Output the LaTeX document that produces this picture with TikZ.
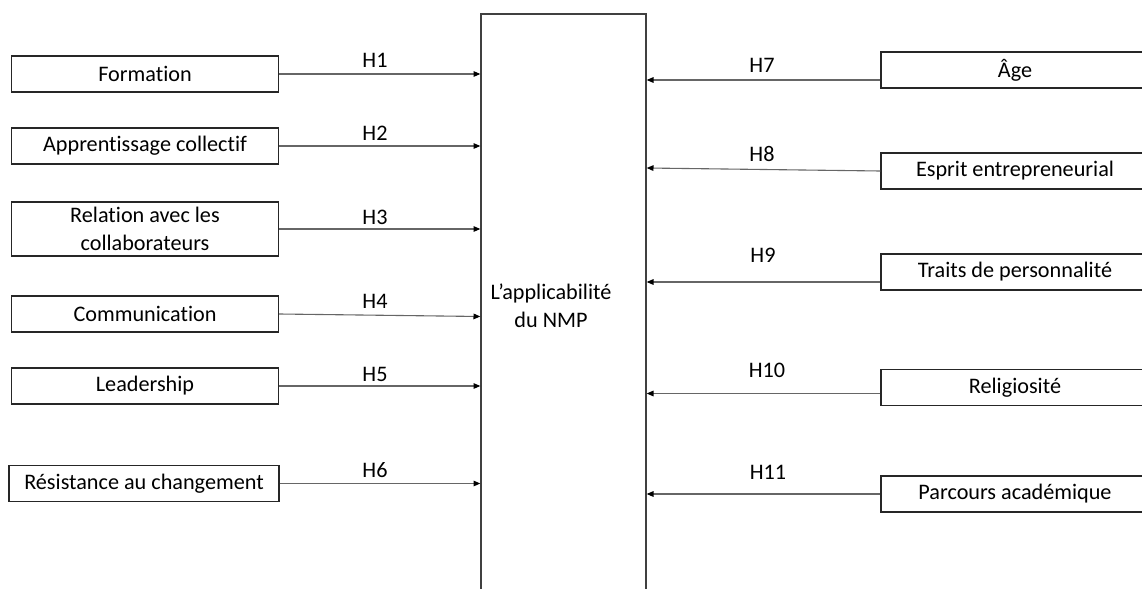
\documentclass[tikz,border=0pt]{standalone}
\usepackage{fontspec}
\setmainfont{Carlito}[Ligatures={NoCommon,NoContextual}]
\usetikzlibrary{arrows.meta,calc}
\begin{document}
\begin{tikzpicture}[x=0.5pt,y=-0.5pt,
  txt/.style={font=\fontsize{11.1}{14}\selectfont},
  box/.style={txt,draw=black!85,line width=0.7pt,minimum height=18pt,inner sep=0pt,align=center},
  lbox/.style={box,minimum width=133.5pt},
  rbox/.style={box,minimum width=134pt},
  hyp/.style={txt,inner sep=0pt},
  conn/.style={draw=black!60,line width=0.55pt,-{Triangle[length=3.4pt,width=2.8pt,color=black,fill=black]}}]
\useasboundingbox (0,0) rectangle (1142,589);
% central box
\node[draw=black!75,line width=0.7pt,minimum width=82.5pt,minimum height=300pt,inner sep=0pt] (c) at (563.5,314) {};
\node[txt,align=center,inner sep=0pt] (ct) at (551,306) {L’applicabilité\\du NMP};
% left boxes
\node[lbox] (b1) at (145,74) {Formation};
\node[lbox] (b2) at (145,146) {Apprentissage collectif};
\node[lbox,minimum height=27pt] (b3) at (145,229) {Relation avec les\\collaborateurs};
\node[lbox] (b4) at (145,314) {Communication};
\node[lbox] (b5) at (145,386) {Leadership};
\node[box,minimum width=135pt] (b6) at (144,483.5) {Résistance au changement};
% right boxes
\node[rbox] (r7) at (1015,70) {Âge};
\node[rbox] (r8) at (1015,171) {Esprit entrepreneurial};
\node[rbox] (r9) at (1015,272) {Traits de personnalité};
\node[rbox] (r10) at (1015,387.5) {Religiosité};
\node[rbox] (r11) at (1015,494) {Parcours académique};
% connector end points
\coordinate (e1) at (c.west |- b1.east);
\coordinate (e2) at (c.west |- b2.east);
\coordinate (e3) at (c.west |- b3.east);
\coordinate (e4) at ($(c.west |- b4.east)+(0,2.5)$);
\coordinate (e5) at (c.west |- b5.east);
\coordinate (e6) at (c.west |- b6.east);
\coordinate (s7) at ($(r7.west)+(0,10)$);
\coordinate (s9) at ($(r9.west)+(0,10)$);
\coordinate (s10) at ($(r10.west)+(0,6)$);
\coordinate (e7) at (c.east |- s7);
\coordinate (e8) at ($(c.east |- r8.west)+(0,-3)$);
\coordinate (e9) at (c.east |- s9);
\coordinate (e10) at (c.east |- s10);
\coordinate (e11) at (c.east |- r11.west);
% connectors
\draw[conn] (b1.east) -- (e1);
\draw[conn] (b2.east) -- (e2);
\draw[conn] (b3.east) -- (e3);
\draw[conn] (b4.east) -- (e4);
\draw[conn] (b5.east) -- (e5);
\draw[conn] (b6.east) -- (e6);
\draw[conn] (s7) -- (e7);
\draw[conn] (r8.west) -- (e8);
\draw[conn] (s9) -- (e9);
\draw[conn] (s10) -- (e10);
\draw[conn] (r11.west) -- (e11);
% labels
\node[hyp] (h1) at (375,60) {H1};
\node[hyp] (h2) at (375,133) {H2};
\node[hyp] (h3) at (375,217) {H3};
\node[hyp] (h4) at (375,301) {H4};
\node[hyp] (h5) at (375,374) {H5};
\node[hyp] (h6) at (375,470) {H6};
\node[hyp] (h7) at (762,65) {H7};
\node[hyp] (h8) at (762,154) {H8};
\node[hyp] (h9) at (763,255) {H9};
\node[hyp] (h10) at (767,370) {H10};
\node[hyp] (h11) at (768,472) {H11};
\end{tikzpicture}
\end{document}
